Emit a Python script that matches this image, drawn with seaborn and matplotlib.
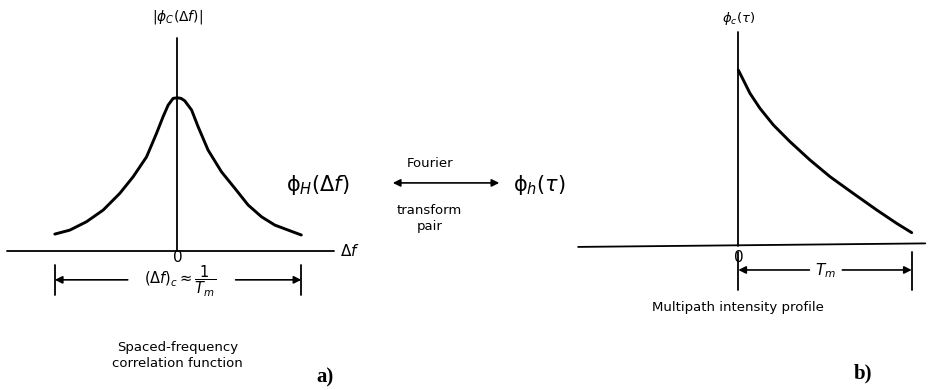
import matplotlib
matplotlib.use("Agg")
import matplotlib.pyplot as plt
import seaborn as sns
import pandas as pd

# Spaced-frequency correlation |phi_C(delta f)|, normalised to its peak
delta_f = [-0.988, -0.867, -0.732, -0.598, -0.464, -0.356, -0.248, -0.168,
           -0.115, -0.074, -0.034, 0.0, 0.03, 0.06, 0.115, 0.168, 0.248,
           0.356, 0.464, 0.571, 0.679, 0.786, 0.894, 1.0]
phi_c = [0.109, 0.135, 0.190, 0.266, 0.375, 0.484, 0.614, 0.767,
         0.876, 0.952, 0.996, 1.0, 0.996, 0.980, 0.920, 0.810, 0.658,
         0.516, 0.408, 0.299, 0.222, 0.168, 0.135, 0.103]

# Multipath intensity profile phi_c(tau), tau in units of T_m
tau = [0.0, 0.029, 0.067, 0.125, 0.202, 0.298, 0.413, 0.529, 0.663,
       0.798, 0.913, 1.0]
phi_tau = [1.0, 0.943, 0.868, 0.782, 0.688, 0.593, 0.489, 0.394, 0.299,
           0.205, 0.129, 0.076]

left_df = pd.DataFrame({"df": delta_f, "val": phi_c})
right_df = pd.DataFrame({"tau": tau, "val": phi_tau})

sns.set_theme(style="white")
plt.rcParams["font.family"] = ["DejaVu Sans"]
plt.rcParams["mathtext.fontset"] = "dejavusans"
plt.rcParams["text.color"] = "black"

fig = plt.figure(figsize=(9.34, 3.9), dpi=100)
fig.patch.set_facecolor("white")

ax_l = fig.add_axes([0.0, 0.0, 0.5, 1.0])
ax_r = fig.add_axes([0.5, 0.0, 0.5, 1.0])
for ax in (ax_l, ax_r):
    ax.set_axis_off()
    ax.set_facecolor("none")

ink = "black"
axis_lw = 1.3
curve_lw = 2.1
arrow_kw = dict(arrowstyle="-|>", color=ink, lw=1.2, mutation_scale=11,
                shrinkA=0, shrinkB=0)
curve_kw = dict(color=ink, lw=curve_lw, sort=False, legend=False,
                solid_joinstyle="round", solid_capstyle="round")

# ---------------- left panel: spaced-frequency correlation ----------------
ax_l.set_xlim(-1.43, 2.336)
ax_l.set_ylim(-0.910, 1.639)
sns.lineplot(data=left_df, x="df", y="val", ax=ax_l, **curve_kw)
ax_l.plot([-1.37, 1.26], [0, 0], color=ink, lw=axis_lw)
ax_l.plot([0, 0], [0, 1.39], color=ink, lw=axis_lw)
ax_l.text(1.31, 0.0, r"$\Delta f$", fontsize=11, ha="left", va="center")
ax_l.text(0.0, -0.045, "0", fontsize=11, ha="center", va="center")
ax_l.text(0.0, 1.527, r"$|\phi_C(\Delta f)|$", fontsize=10,
          ha="center", va="center")

# bandwidth dimension
for xe in (delta_f[0], delta_f[-1]):
    ax_l.plot([xe, xe], [-0.094, -0.29], color=ink, lw=axis_lw)
ax_l.annotate("", xy=(delta_f[0], -0.19), xytext=(-0.40, -0.19),
              arrowprops=arrow_kw)
ax_l.annotate("", xy=(delta_f[-1], -0.19), xytext=(0.47, -0.19),
              arrowprops=arrow_kw)
ax_l.text(0.02, -0.20, r"$(\Delta f)_c \approx \dfrac{1}{T_m}$",
          fontsize=10.5, ha="center", va="center")
ax_l.text(0.0, -0.63, "Spaced-frequency", fontsize=9.5,
          ha="center", va="center")
ax_l.text(0.0, -0.735, "correlation function", fontsize=9.5,
          ha="center", va="center")
ax_l.text(1.19, -0.83, "a)", fontsize=15, fontweight="bold",
          family="Liberation Serif", ha="center", va="center")

# ---------------- right panel: multipath intensity profile ----------------
ax_r.set_xlim(-1.565, 1.1286)
ax_r.set_ylim(-0.818, 1.398)
sns.lineplot(data=right_df, x="tau", y="val", ax=ax_r, **curve_kw)
ax_r.plot([-0.924, 1.078], [-0.005, 0.015], color=ink, lw=axis_lw)
ax_r.plot([0, 0], [0, 1.218], color=ink, lw=axis_lw)
ax_r.text(0.0, 1.295, r"$\phi_c(\tau)$", fontsize=9.5,
          ha="center", va="center")
ax_r.text(0.0, -0.065, "0", fontsize=11, ha="center", va="center")

for xe in (tau[0], tau[-1]):
    ax_r.plot([xe, xe], [-0.034, -0.25], color=ink, lw=axis_lw)
ax_r.annotate("", xy=(tau[0], -0.136), xytext=(0.41, -0.136),
              arrowprops=arrow_kw)
ax_r.annotate("", xy=(tau[-1], -0.136), xytext=(0.60, -0.136),
              arrowprops=arrow_kw)
ax_r.text(0.505, -0.14, r"$T_m$", fontsize=11, ha="center", va="center")
ax_r.text(0.0, -0.347, "Multipath intensity profile", fontsize=9.5,
          ha="center", va="center")
ax_r.text(0.718, -0.725, "b)", fontsize=15, fontweight="bold",
          family="Liberation Serif", ha="center", va="center")

# ---------------- Fourier pair between the panels ----------------
fig.text(0.340, 0.526, r"$\mathrm{\phi}_H(\Delta f)$", fontsize=15,
         ha="center", va="center")
fig.text(0.578, 0.526, r"$\mathrm{\phi}_h(\tau)$", fontsize=15,
         ha="center", va="center")
fig.text(0.460, 0.582, "Fourier", fontsize=9.5, ha="center", va="center")
fig.text(0.460, 0.4615, "transform", fontsize=9.5, ha="center", va="center")
fig.text(0.460, 0.418, "pair", fontsize=9.5, ha="center", va="center")
fig.patches.append(matplotlib.patches.FancyArrowPatch(
    (0.4176, 0.531), (0.5375, 0.531), transform=fig.transFigure,
    arrowstyle="<|-|>", color=ink, lw=1.2, mutation_scale=11))

fig.savefig("out.png", dpi=100, facecolor="white")
